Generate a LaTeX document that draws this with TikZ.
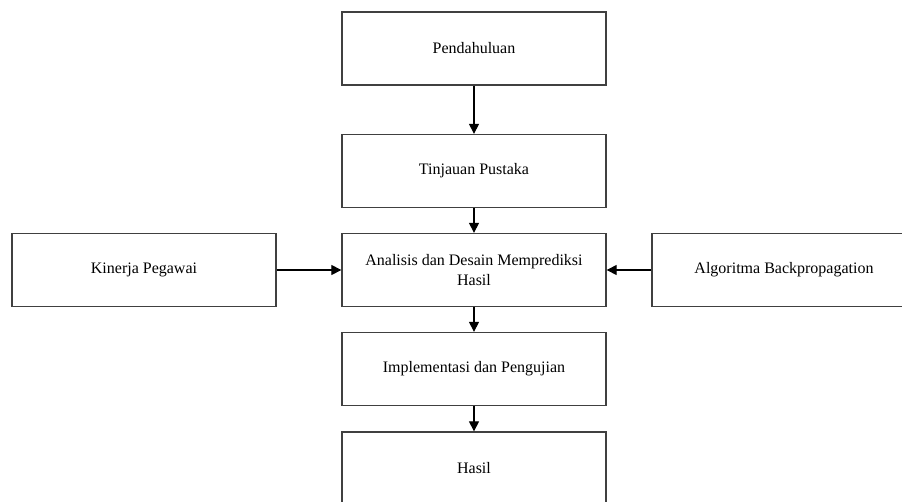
\documentclass[tikz,border=0pt]{standalone}
\usepackage{fontspec}
\setmainfont{Liberation Serif}
\usetikzlibrary{arrows.meta}
\begin{document}
\begin{tikzpicture}[x=1pt,y=-1pt,
  box/.style={draw=black!75, line width=1.3pt, minimum width=264pt, minimum height=73pt, inner sep=0pt, align=center, font=\fontsize{16}{20}\selectfont},
  conn/.style={line width=1.1pt, -{Triangle[length=10pt,width=10pt]}}]
\useasboundingbox (0,0) rectangle (902,501);
\clip (0,0) rectangle (902,501);
\fill[white] (0,0) rectangle (902,501);
\node[box] (p) at (474,48.5) {Pendahuluan};
\node[box] (t) at (474,171) {Tinjauan Pustaka};
\node[box] (a) at (474,270) {Analisis dan Desain Memprediksi\\Hasil};
\node[box] (i) at (474,369) {Implementasi dan Pengujian};
\node[box, minimum height=72pt] (h) at (474,468) {Hasil};
\node[box] (k) at (144,270) {Kinerja Pegawai};
\node[box] (b) at (784,270) {Algoritma Backpropagation};
\draw[conn] (p) -- (t);
\draw[conn] (t) -- (a);
\draw[conn] (a) -- (i);
\draw[conn] (i) -- (h);
\draw[conn] (k) -- (a);
\draw[conn] (b) -- (a);
\end{tikzpicture}
\end{document}
